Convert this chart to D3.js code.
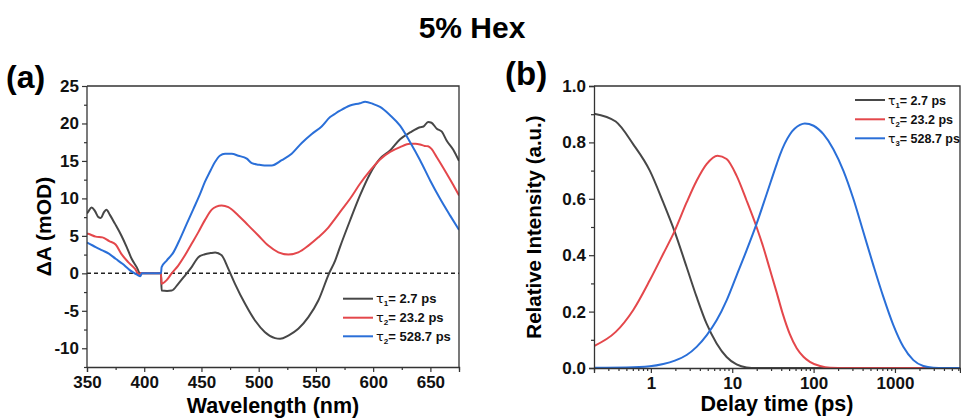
<!DOCTYPE html>
<html>
<head>
<meta charset="utf-8">
<script src="https://cdn.jsdelivr.net/npm/d3@7"></script>
<style>
  html, body { margin: 0; padding: 0; background: #fff; }
  svg { display: block; font-family: "Liberation Sans", Arial, Helvetica, sans-serif; }
  .tick text { font-weight: bold; }
</style>
</head>
<body>
<svg id="chart" width="961" height="419"></svg>
<script>
// ---------------- DATA ----------------
const chartTitle = "5% Hex";

// Panel (a): decay-associated spectra, [wavelength nm, ΔA mOD]
const spectrumTau1 = [[350,8.0],[351,8.2],[354,8.8],[357,8.3],[360,7.5],[362,7.4],[365,8.2],[367,8.5],[370,7.8],[374.5,6.6],[380,5.05],[384.7,3.5],[389,1.94],[393.4,0.83],[396.3,0],[405,0],[414.6,0],[415.2,-2.3],[420,-2.35],[424,-2.3],[429.7,-1.4],[435.6,-0.3],[441.4,0.83],[447.3,2.16],[453,2.55],[458,2.7],[462,2.78],[467.6,2.4],[473.5,0.6],[479.3,-1.4],[488.1,-4.07],[496.8,-6.3],[505.5,-7.85],[514.3,-8.65],[518.7,-8.74],[525.9,-8.3],[534.6,-7.4],[543.4,-5.85],[552.1,-3.63],[561.5,0],[566.8,1.7],[571,3.5],[579.8,7.05],[588.5,10.4],[597.3,13.3],[606,15.3],[614.8,16.4],[623.5,17.9],[632.3,18.8],[641,19.5],[644,19.6],[648,20.2],[651,20.1],[655.6,19.3],[660,18.9],[664.3,17.7],[670,16.5],[675,15.0]];
const spectrumTau2 = [[350,5.3],[351,5.27],[357.6,4.9],[363.5,4.8],[369.4,4.3],[375,3.85],[380,2.6],[386,1.5],[392,0.6],[395.7,-0.2],[397,0],[414.6,0],[415.2,-1.4],[419.6,-0.9],[424,0],[429.7,1.04],[435.6,2.4],[441.4,3.94],[447.3,5.5],[453,7.1],[459,8.5],[463,8.9],[467.6,9.06],[473.5,8.84],[482.2,7.73],[490.9,6.4],[499.7,5.05],[508.4,3.7],[517.2,2.8],[525.9,2.5],[534.6,2.8],[543.4,3.7],[552.1,4.8],[560.8,6.1],[566.8,7.3],[571,8.17],[579.8,9.95],[588.5,11.95],[597.3,13.7],[606,15.2],[614.8,16.2],[623.5,16.85],[632.3,17.3],[637,17.3],[641,17.2],[645,17.0],[648,16.95],[651,16.6],[655.6,15.5],[664.3,13.3],[670,11.8],[675,10.4]];
const spectrumTau3 = [[350,4.1],[351,4.03],[357.6,3.5],[363.5,3.05],[369.4,2.6],[375,1.94],[381,1.27],[386.8,0.5],[391,0.05],[394,-0.2],[396.5,-0.4],[398,0],[414.6,0],[415.2,0.83],[419.6,1.7],[425.5,2.8],[431.3,4.6],[437.1,6.6],[443,8.6],[448.8,10.6],[453,12.2],[457.5,13.6],[461.8,14.85],[466,15.7],[470.6,15.96],[476.4,15.96],[482.2,15.7],[489.6,15.3],[494,14.7],[499.8,14.5],[505,14.4],[511.4,14.4],[520.1,15.1],[528.8,15.96],[537.6,17.4],[546.4,18.6],[555,19.6],[562.4,20.85],[566.8,21.3],[571,21.7],[579.8,22.4],[588.5,22.7],[593,22.9],[600,22.6],[606,22.2],[614.8,21.1],[623.5,19.7],[632.3,17.5],[641,15.1],[649.8,12.4],[658.5,9.95],[667.3,7.7],[675,5.8]];
const legendA = ["= 2.7 ps", "= 23.2 ps", "= 528.7 ps"];
const legendASubs = ["1", "2", "2"];

// Panel (b): population kinetics, [delay ps, relative intensity]
const kineticTau1 = [[0.2,0.902],[0.37,0.874],[0.605,0.794],[0.97,0.700],[1.42,0.587],[1.97,0.482],[2.75,0.358],[3.65,0.252],[4.84,0.157],[6.43,0.087],[8.53,0.039],[11.3,0.0125],[15,0.002],[20,0],[100,0],[6300,0]];
const kineticTau2 = [[0.2,0.078],[0.37,0.128],[0.605,0.205],[0.97,0.311],[1.42,0.405],[1.97,0.487],[2.75,0.587],[3.65,0.664],[4.84,0.723],[6.6,0.753],[8.53,0.741],[11.3,0.682],[15,0.594],[19.9,0.500],[24,0.43],[29,0.35],[35,0.27],[42,0.19],[51,0.12],[62,0.07],[75,0.04],[90,0.022],[120,0.007],[160,0.001],[250,0],[6300,0]];
const kineticTau3 = [[0.2,0.001],[0.5,0.002],[0.97,0.006],[1.42,0.014],[1.97,0.026],[2.75,0.046],[3.65,0.075],[4.84,0.116],[6.43,0.169],[8.53,0.240],[11.3,0.328],[15,0.417],[19.9,0.511],[26.5,0.617],[35.2,0.723],[38.6,0.756],[51.3,0.829],[68,0.862],[78,0.867],[100,0.859],[132,0.829],[175,0.776],[232,0.700],[308,0.600],[409,0.482],[543,0.364],[720,0.252],[955,0.152],[1267,0.075],[1683,0.028],[2234,0.007],[2965,0.001],[4000,0],[6300,0]];
const legendB = ["= 2.7 ps", "= 23.2 ps", "= 528.7 ps"];
const legendBSubs = ["1", "2", "3"];

// Tick values
const ticksAX = [350, 400, 450, 500, 550, 600, 650];
const ticksAY = [-10, -5, 0, 5, 10, 15, 20, 25];
const ticksBX = [1, 10, 100, 1000];
const ticksBY = [0, 0.2, 0.4, 0.6, 0.8, 1.0];

const colors = ["#474747", "#e4474b", "#2a6fd8"];

// ---------------- DRAW ----------------
const svg = d3.select("#chart");
const frameColor = "#333";

svg.append("text").attr("x", 472).attr("y", 38).attr("text-anchor", "middle")
  .attr("font-size", 30).attr("font-weight", "bold").text(chartTitle);

function styleAxis(g) {
  g.select(".domain").attr("stroke", frameColor).attr("stroke-width", 1.3);
  g.selectAll(".tick line").attr("stroke", frameColor).attr("stroke-width", 1.2);
  g.selectAll(".tick text").attr("font-size", 17).attr("fill", "#111");
}

function legendEntries(g, x0, ys, labels, subs, fontSize) {
  labels.forEach((lab, i) => {
    g.append("line").attr("x1", x0).attr("x2", x0 + 30).attr("y1", ys[i]).attr("y2", ys[i])
      .attr("stroke", colors[i]).attr("stroke-width", 2);
    const t = g.append("text").attr("x", x0 + 33).attr("y", ys[i] + 4.5)
      .attr("font-size", fontSize).attr("font-weight", "bold").attr("fill", "#111");
    t.append("tspan").attr("font-weight", "normal").attr("font-family", "DejaVu Sans, sans-serif").text("τ");
    t.append("tspan").attr("font-size", fontSize * 0.62).attr("dy", 3).text(subs[i]);
    t.append("tspan").attr("dy", -3).text(lab);
  });
}

// ----- Panel (a)
{
  const L = 87, R = 459, T = 86, B = 367;
  const x = d3.scaleLinear().domain([350, 675]).range([L, R]);
  const y = d3.scaleLinear().domain([-12.5, 25]).range([B, T]);

  const minorX = d3.range(350, 676, 25).filter(v => v % 50 !== 0);
  const minorY = d3.range(-12.5, 25.1, 2.5).filter(v => v % 5 !== 0);

  svg.append("g").attr("transform", `translate(0,${B})`)
    .call(d3.axisBottom(x).tickValues(minorX).tickSize(3).tickFormat(""))
    .call(g => g.select(".domain").remove())
    .call(styleAxis);
  svg.append("g").attr("transform", `translate(${L},0)`)
    .call(d3.axisLeft(y).tickValues(minorY).tickSize(3).tickFormat(""))
    .call(g => g.select(".domain").remove())
    .call(styleAxis);

  svg.append("clipPath").attr("id", "clipA").append("rect")
    .attr("x", L).attr("y", T).attr("width", R - L).attr("height", B - T);

  svg.append("line").attr("x1", L).attr("x2", R).attr("y1", y(0)).attr("y2", y(0))
    .attr("stroke", "#222").attr("stroke-width", 1.5).attr("stroke-dasharray", "4,3");

  const line = d3.line().x(d => x(d[0])).y(d => y(d[1])).curve(d3.curveMonotoneX);
  [spectrumTau1, spectrumTau2, spectrumTau3].forEach((s, i) => {
    svg.append("path").datum(s).attr("d", line).attr("fill", "none")
      .attr("stroke", colors[i]).attr("stroke-width", 2).attr("clip-path", "url(#clipA)")
      .attr("stroke-linejoin", "round");
  });

  svg.append("g").attr("transform", `translate(0,${B})`)
    .call(d3.axisBottom(x).tickValues(ticksAX).tickSize(5).tickPadding(4).tickFormat(d3.format("d")))
    .call(styleAxis);
  svg.append("g").attr("transform", `translate(${L},0)`)
    .call(d3.axisLeft(y).tickValues(ticksAY).tickSize(5).tickPadding(3).tickFormat(d => String(d)))
    .call(g => g.select(".domain").attr("d", `M-0,${B}V${T}`))
    .call(styleAxis);
  svg.append("path").attr("d", `M${L},${T}H${R}V${B}`).attr("fill", "none")
    .attr("stroke", frameColor).attr("stroke-width", 1.3);

  svg.append("text").attr("x", (L + R) / 2).attr("y", 413).attr("text-anchor", "middle")
    .attr("font-size", 21.5).attr("font-weight", "bold").text("Wavelength (nm)");
  svg.append("text").attr("transform", `translate(51,${(T + B) / 2}) rotate(-90)`)
    .attr("text-anchor", "middle").attr("font-size", 21).attr("font-weight", "bold").text("ΔA (mOD)");
  svg.append("text").attr("x", 6).attr("y", 88).attr("font-size", 32).attr("font-weight", "bold").text("(a)");

  legendEntries(svg.append("g"), 343, [298.7, 317.7, 336.3], legendA, legendASubs, 13);
}

// ----- Panel (b)
{
  const L = 594, R = 960, T = 86, B = 368;
  const x = d3.scaleLog().domain([0.2, 6300]).range([L, R]);
  const y = d3.scaleLinear().domain([0, 1]).range([B, T]);

  const minorX = [];
  [0.1, 1, 10, 100, 1000].forEach(dec => {
    for (let k = 2; k <= 9; k++) { const v = dec * k; if (v >= 0.2 && v <= 6300) minorX.push(v); }
  });
  const minorY = d3.range(0.1, 1, 0.2);

  svg.append("g").attr("transform", `translate(0,${B})`)
    .call(d3.axisBottom(x).tickValues(minorX).tickSize(3).tickFormat(""))
    .call(g => g.select(".domain").remove())
    .call(styleAxis);
  svg.append("g").attr("transform", `translate(${L},0)`)
    .call(d3.axisLeft(y).tickValues(minorY).tickSize(3).tickFormat(""))
    .call(g => g.select(".domain").remove())
    .call(styleAxis);

  svg.append("clipPath").attr("id", "clipB").append("rect")
    .attr("x", L).attr("y", T - 2).attr("width", R - L).attr("height", B - T + 4);

  const line = d3.line().x(d => x(d[0])).y(d => y(d[1])).curve(d3.curveMonotoneX);
  [kineticTau1, kineticTau2, kineticTau3].forEach((s, i) => {
    svg.append("path").datum(s).attr("d", line).attr("fill", "none")
      .attr("stroke", colors[i]).attr("stroke-width", 2).attr("clip-path", "url(#clipB)")
      .attr("stroke-linejoin", "round");
  });

  svg.append("g").attr("transform", `translate(0,${B})`)
    .call(d3.axisBottom(x).tickValues(ticksBX).tickSize(5).tickPadding(4).tickFormat(d3.format("d")))
    .call(styleAxis);
  svg.append("g").attr("transform", `translate(${L},0)`)
    .call(d3.axisLeft(y).tickValues(ticksBY).tickSize(5).tickPadding(3).tickFormat(d3.format(".1f")))
    .call(styleAxis);
  svg.append("path").attr("d", `M${L},${T}H${R}V${B}`).attr("fill", "none")
    .attr("stroke", frameColor).attr("stroke-width", 1.3);

  svg.append("text").attr("x", 777).attr("y", 411).attr("text-anchor", "middle")
    .attr("font-size", 21.5).attr("font-weight", "bold").text("Delay time (ps)");
  svg.append("text").attr("transform", `translate(541,${(T + B) / 2}) rotate(-90)`)
    .attr("text-anchor", "middle").attr("font-size", 20.5).attr("font-weight", "bold").text("Relative Intensity (a.u.)");
  svg.append("text").attr("x", 505).attr("y", 85).attr("font-size", 33).attr("font-weight", "bold").text("(b)");

  legendEntries(svg.append("g"), 855, [100, 119.3, 138.3], legendB, legendBSubs, 12.5);
}
</script>
</body>
</html>
